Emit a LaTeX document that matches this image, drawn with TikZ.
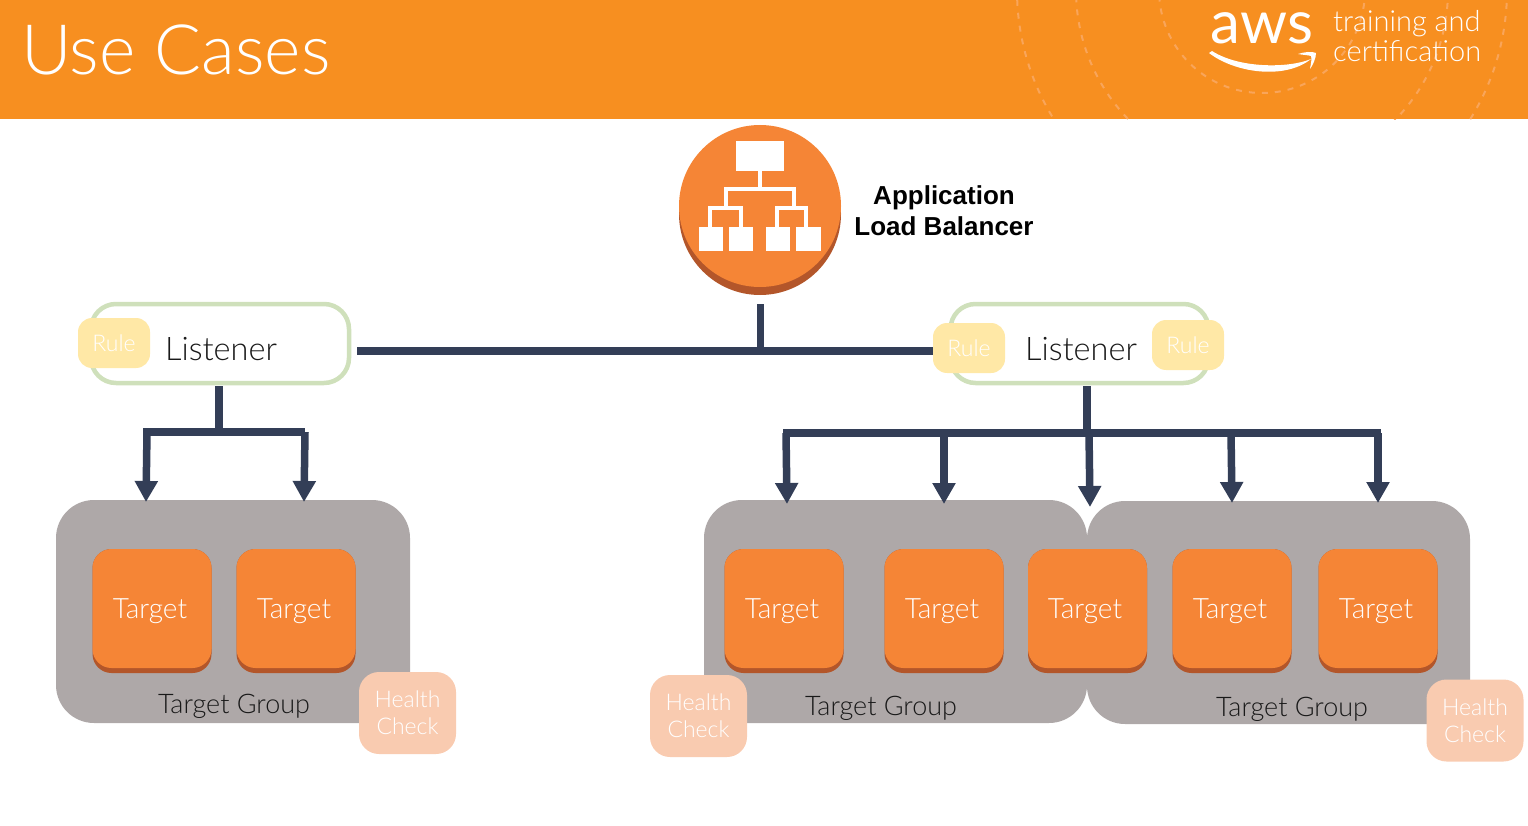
\documentclass[tikz,border=0pt]{standalone}
\usepackage{fontspec}
\setmainfont{Liberation Sans}
\newfontfamily\lightf{Lato Light}
\usetikzlibrary{arrows.meta}
\definecolor{banner}{HTML}{F78F20}
\definecolor{arcc}{HTML}{F9A55A}
\definecolor{orangeb}{HTML}{F58536}
\definecolor{oranged}{HTML}{B3562A}
\definecolor{navy}{HTML}{333E57}
\definecolor{groupc}{HTML}{AEA8A8}
\definecolor{greenl}{HTML}{CFE0BB}
\definecolor{rulec}{HTML}{FFE8A6}
\definecolor{healthc}{HTML}{F9CBB0}
\tikzset{
  x=1pt,y=-1pt,
  wire/.style={draw=navy,line width=7.5pt},
  arrowwire/.style={wire,-{Triangle[width=22pt,length=21pt]}},
  groupbox/.style={fill=groupc,rounded corners=38pt,minimum width=383pt,minimum height=223pt,inner sep=0},
  listenerbox/.style={draw=greenl,line width=4.5pt,fill=white,rounded corners=25pt,minimum width=258pt,minimum height=79pt,inner sep=0},
  targetbase/.style={fill=oranged,rounded corners=19pt,minimum width=119pt,minimum height=124pt,inner sep=0},
  targetbox/.style={fill=orangeb,rounded corners=19pt,minimum width=119pt,minimum height=119pt,inner sep=0},
  targettxt/.style={text=white,font=\lightf\fontsize{28}{32}\selectfont},
  rulebox/.style={fill=rulec,rounded corners=14pt,minimum width=72pt,minimum height=50pt,inner sep=0,text=white,font=\lightf\fontsize{23}{27}\selectfont},
  healthbox/.style={fill=healthc,rounded corners=20pt,minimum width=97pt,minimum height=82pt,inner sep=0,text=white,align=center,font=\lightf\fontsize{23}{27}\selectfont},
  dark/.style={text=black!90,font=\lightf\fontsize{27}{31}\selectfont},
  listenertxt/.style={text=black!90,font=\lightf\fontsize{32.5}{38}\selectfont},
  whitelogo/.style={text=white,font=\lightf\fontsize{29}{29}\selectfont,inner sep=0},
  ringline/.style={draw=arcc,line width=2pt,dash pattern=on 6pt off 7pt},
  icon/.style={fill=white,draw=none}
}
\begin{document}
\begin{tikzpicture}
\useasboundingbox (0,0) rectangle (1528,826);
% banner
\fill[banner] (0,0) rectangle (1528,119.5);
\begin{scope}
  \clip (0,0) rectangle (1528,119.5);
  \draw[ringline] (1262,-10) circle[radius=103];
  \draw[ringline] (1262,-10) circle[radius=186];
  \draw[ringline] (1262,-10) circle[radius=245];
\end{scope}
\node[text=white,font=\lightf\fontsize{69.5}{72}\selectfont,anchor=west,inner sep=0] (title) at (21,50) {Use Cases};
\node[text=white,font=\fontspec{Lato}\fontsize{60}{60}\selectfont,anchor=base,inner sep=0] (aws) at (1262,44) {aws};
\fill[white] (1209,53) .. controls (1235,73) and (1285,80) .. (1311,59)
  .. controls (1290,68) and (1240,69) .. (1212,51) -- cycle;
\fill[white] (1298,54) .. controls (1304,52) and (1312,51) .. (1316,53)
  .. controls (1316,58) and (1313,65) .. (1310,69)
  .. controls (1311,63) and (1312,59) .. (1311,56)
  .. controls (1308,55) and (1303,55) .. (1298,54) -- cycle;
\node[whitelogo,anchor=west] (train) at (1333,24) {training and};
\node[whitelogo,anchor=west] (cert) at (1333,51) {certification};

% ALB
\node[circle,fill=oranged,minimum size=162pt,inner sep=0] (albbase) at (760,214) {};
\node[circle,fill=orangeb,minimum size=162pt,inner sep=0] (alb) at (760,206) {};
\fill[icon] (736,141) rectangle (784,171);
\fill[icon] (758,171) rectangle (762,190);
\fill[icon] (724,187) rectangle (796,191);
\fill[icon] (724,187) rectangle (728,208);
\fill[icon] (792,187) rectangle (796,208);
\fill[icon] (708,206) rectangle (743,210);
\fill[icon] (775,206) rectangle (808,210);
\fill[icon] (708,206) rectangle (712,227);
\fill[icon] (739,206) rectangle (743,227);
\fill[icon] (775,206) rectangle (779,227);
\fill[icon] (804,206) rectangle (808,227);
\fill[icon] (699,227) rectangle (723,251);
\fill[icon] (729,227) rectangle (753,251);
\fill[icon] (766,227) rectangle (790,251);
\fill[icon] (796,227) rectangle (821,251);
\node[align=center,font=\bfseries\fontsize{26}{31.5}\selectfont,text=black] (albtxt) at (944,210.5) {Application\\Load Balancer};

% groups
\node[groupbox,minimum width=354pt] (g1) at (233,611.5) {};
\node[groupbox] (g2) at (895.5,611.5) {};
\node[groupbox] (g3) at (1278.5,612.5) {};
\node[dark] (g1t) at (234,706) {Target Group};
\node[dark] (g2t) at (881,708) {Target Group};
\node[dark] (g3t) at (1292,709) {Target Group};

% listeners
\node[listenerbox] (l1) at (220,343.5) {};
\node[listenerbox] (l2) at (1079.5,343.5) {};

% junctions
\coordinate (j0) at (760.5,351);
\coordinate (w0) at (357,351);
\coordinate (albend) at (760.5,304);
\coordinate (l1j) at (219,432);
\coordinate (l1a) at (146,432);
\coordinate (l1b) at (305,432);
\coordinate (l2j) at (1087,433);
\coordinate (l2a) at (783,433);
\coordinate (l2b) at (1381,433);
\coordinate (s1) at (147,432);  \coordinate (e1) at (146,502);
\coordinate (s2) at (305,432);  \coordinate (e2) at (304,502);
\coordinate (s3) at (786,433);  \coordinate (e3) at (787,504);
\coordinate (s4) at (944,433);  \coordinate (e4) at (944,504);
\coordinate (s5) at (1089,433); \coordinate (e5) at (1090,507);
\coordinate (s6) at (1231,433); \coordinate (e6) at (1232,503);
\coordinate (s7) at (1378,433); \coordinate (e7) at (1378,503);

\draw[wire] (w0) -- (j0) -- (933,351);
\draw[wire] (albend) -- (j0);
\draw[wire] (219,386) -- (l1j);
\draw[wire] ([xshift=-3pt]l1a) -- (l1b);
\draw[wire] (1087,386) -- (l2j);
\draw[wire] (l2a) -- (l2b);
\foreach \i in {1,...,7}{\draw[arrowwire] (s\i) -- (e\i);}

% listener text and rules
\node[listenertxt] (l1t) at (221,349) {Listener};
\node[listenertxt] (l2t) at (1081,349) {Listener};
\node[rulebox] (r1) at (114,343) {Rule};
\node[rulebox] (r2) at (969,348) {Rule};
\node[rulebox] (r3) at (1188,345) {Rule};

% targets
\foreach \n/\x/\tx in {t1/152/150,t2/296/294,t3/784/782,t4/944/942,t5/1087.5/1085,t6/1232/1230,t7/1378/1376}{
  \node[targetbase] (\n b) at (\x,611) {};
  \node[targetbox] (\n) at (\x,608.5) {};
  \node[targettxt] (\n t) at (\tx,611) {Target};
}

% health
\node[healthbox] (h1) at (407.5,713) {Health\\Check};
\node[healthbox] (h2) at (698.5,716) {Health\\Check};
\node[healthbox] (h3) at (1475,720.5) {Health\\Check};
\end{tikzpicture}
\end{document}
